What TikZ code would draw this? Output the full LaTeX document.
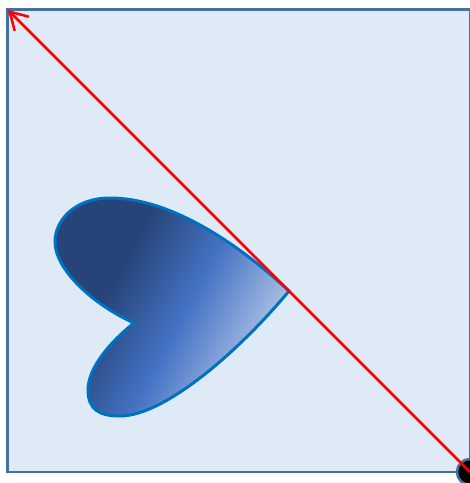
\documentclass[tikz,border=0pt]{standalone}
\usetikzlibrary{arrows.meta}
\definecolor{bgfill}{HTML}{DEEBF7}
\definecolor{bgline}{HTML}{41719C}
\definecolor{hline}{HTML}{0070C0}
\definecolor{hdark}{HTML}{264478}
\definecolor{hmid}{HTML}{4472C4}
\definecolor{hlight}{HTML}{C9D7EE}
\pgfdeclarehorizontalshading{heartshade}{100bp}{color(0bp)=(hdark); color(36bp)=(hdark); color(53bp)=(hmid); color(77bp)=(hlight); color(100bp)=(hlight)}
\tikzset{
  frame/.style={draw=bgline, line width=2.5pt, fill=bgfill},
  heart/.style={draw=hline, line width=3pt, shading=heartshade, shading angle=-28},
  redarrow/.style={draw=red, line width=2.5pt, -{Straight Barb[length=17pt 0,width=20pt 0]}},
  corner/.style={circle, draw=bgline, line width=2.5pt, fill=black, minimum size=26pt, inner sep=0pt}
}
\begin{document}
\begin{tikzpicture}[x=1pt,y=-1pt]
\useasboundingbox (0,0) rectangle (470,483);
\draw[frame] (7.5,9.5) rectangle (470,472);
\coordinate (tl) at (8,10);
\coordinate (br) at (470,472);
\path[heart] (289,291) .. controls (245,250) and (175,198) .. (110,198)
  .. controls (75,198) and (55,220) .. (55,242)
  .. controls (55,268) and (90,303) .. (134,323)
  .. controls (110,342) and (88,368) .. (88,390)
  .. controls (88,410) and (100,416) .. (120,416)
  .. controls (165,416) and (240,350) .. cycle;
\node[corner] (c) at (br) {};
\draw[redarrow] (br) -- (tl);
\end{tikzpicture}
\end{document}
